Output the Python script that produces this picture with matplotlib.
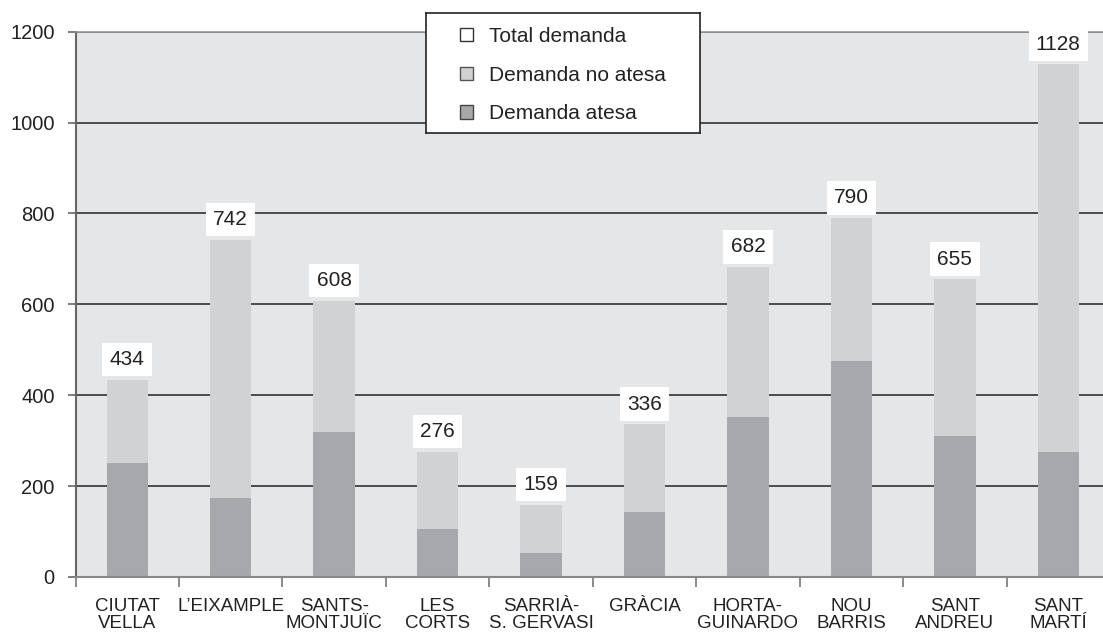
import matplotlib
matplotlib.use("Agg")
import matplotlib.pyplot as plt
from matplotlib.patches import Patch

plt.rcParams['font.family'] = ['Liberation Sans', 'DejaVu Sans']

# Dades per districte
districtes = ['CIUTAT\nVELLA', 'L’EIXAMPLE', 'SANTS-\nMONTJUÏC', 'LES\nCORTS',
              'SARRIÀ-\nS. GERVASI', 'GRÀCIA', 'HORTA-\nGUINARDO', 'NOU\nBARRIS',
              'SANT\nANDREU', 'SANT\nMARTÍ']
atesa = [251, 173, 320, 106, 52, 142, 352, 476, 311, 276]
no_atesa = [183, 569, 288, 170, 107, 194, 330, 314, 344, 852]
total = [434, 742, 608, 276, 159, 336, 682, 790, 655, 1128]
yticks = [0, 200, 400, 600, 800, 1000, 1200]

c_bg = '#e5e6e8'
c_light = '#d1d2d4'
c_dark = '#a7a8ab'
c_text = '#222222'

W, H = 1103, 633
fig = plt.figure(figsize=(W / 100, H / 100), dpi=100)
ax = fig.add_axes([75.5 / W, 1 - 577 / H, (1110 - 75.5) / W, (577 - 31.7) / H])
ax.set_facecolor(c_bg)

x = range(len(districtes))
ax.bar(x, atesa, width=0.4, color=c_dark, zorder=2)
ax.bar(x, no_atesa, width=0.4, bottom=atesa, color=c_light, zorder=2)

for i, t in enumerate(total):
    top = atesa[i] + no_atesa[i]
    ax.annotate(str(t), (i, top), xytext=(0, 14.5), textcoords='offset points',
                ha='center', va='center', fontsize=15, color=c_text, zorder=4,
                bbox=dict(boxstyle='square,pad=0.35', fc='white', ec='none'))

ax.set_xlim(-0.5, len(districtes) - 0.5)
ax.set_ylim(0, 1200)
ax.set_yticks(yticks)
ax.set_yticklabels([str(v) for v in yticks], fontsize=14.5, color=c_text)
ax.yaxis.grid(True, color='#222222', linewidth=1.1)
ax.set_axisbelow(True)

ax.set_xticks(list(x))
ax.set_xticklabels(districtes, fontsize=13.5, color=c_text, linespacing=1.05)
ax.set_xticks([i + 0.5 for i in range(-1, len(districtes))], minor=True)
ax.tick_params(axis='x', which='major', length=0, pad=15)
ax.tick_params(axis='x', which='minor', length=7, width=1.2, color='#777777')
ax.tick_params(axis='y', length=6, width=1.2, color='#666666', pad=9)

ax.spines['left'].set_color('#666666')
ax.spines['left'].set_linewidth(1.5)
ax.spines['bottom'].set_color('#888888')
ax.spines['bottom'].set_linewidth(1.5)
ax.spines['top'].set_color('#999999')
ax.spines['top'].set_linewidth(1.2)
ax.spines['right'].set_visible(False)

# Llegenda en una caixa blanca
lax = fig.add_axes([426 / W, 1 - 133 / H, 274 / W, 120.5 / H])
lax.set_facecolor('white')
lax.set_xticks([])
lax.set_yticks([])
for s in lax.spines.values():
    s.set_color('#222222')
    s.set_linewidth(1.2)
handles = [Patch(fc='white', ec='#333333', lw=1),
           Patch(fc=c_light, ec='#555555', lw=1),
           Patch(fc=c_dark, ec='#444444', lw=1)]
labels = ['Total demanda', 'Demanda no atesa', 'Demanda atesa']
lax.legend(handles, labels, loc='center', bbox_to_anchor=(0.5, 0.48),
           frameon=False, fontsize=15,
           handlelength=0.6, handleheight=0.6, handletextpad=0.75,
           labelspacing=0.95, labelcolor=c_text)

fig.savefig('out.png', dpi=100)
